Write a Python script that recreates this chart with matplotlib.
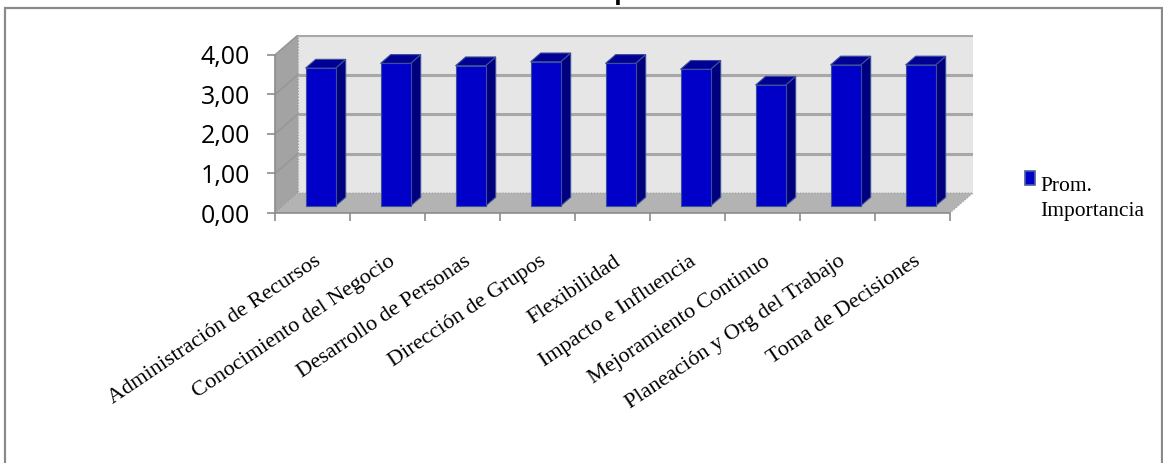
import matplotlib
matplotlib.use("Agg")
import matplotlib.pyplot as plt
from matplotlib.patches import Polygon, Rectangle
from matplotlib.transforms import ScaledTranslation

categorias = ['Administración de Recursos', 'Conocimiento del Negocio',
              'Desarrollo de Personas', 'Dirección de Grupos', 'Flexibilidad',
              'Impacto e Influencia', 'Mejoramiento Continuo',
              'Planeación y Org del Trabajo', 'Toma de Decisiones']
importancia = [3.49, 3.61, 3.55, 3.65, 3.61, 3.46, 3.06, 3.57, 3.57]
serie = 'Prom. Importancia'
y_ticks = [0, 1, 2, 3, 4]

# oblique "3D" depth offsets, in data units
DX, DY = 0.307, 0.506
F0, F1 = 0.35, 0.79      # depth span of each column
ANCHO = 0.40             # column width
YMAX = 4

fig = plt.figure(figsize=(11.63, 4.63), dpi=100)
fig.patch.set_facecolor('white')

# outer chart frame
fig.patches.append(Rectangle((5 / 1163, -0.1), 1157 / 1163, 1 - 8 / 463 + 0.1,
                             transform=fig.transFigure, fill=False,
                             edgecolor='#8a8a8a', linewidth=1.6))

# chart title sits above the top edge of the frame
fig.text(0.531, 1 + 1 / 463, serie, ha='center', va='baseline',
         fontsize=18, fontweight='bold', family='Open Sans')

ax = fig.add_axes([275 / 1163, (463 - 213) / 463, 698 / 1163, 178 / 463])
n = len(categorias)
ax.set_xlim(0, n + DX)
ax.set_ylim(0, YMAX + DY)
ax.patch.set_visible(False)

# walls and floor
ax.add_patch(Polygon([(DX, DY), (n + DX, DY), (n + DX, YMAX + DY), (DX, YMAX + DY)],
                     facecolor='#e6e6e6', edgecolor='#a0a0a0', linewidth=0.8,
                     linestyle=':', zorder=1))
ax.add_patch(Polygon([(0, 0), (DX, DY), (DX, YMAX + DY), (0, YMAX)],
                     facecolor='#a3a3a3', edgecolor='#a0a0a0', linewidth=0.8,
                     linestyle=':', zorder=1))
ax.add_patch(Polygon([(0, 0), (n, 0), (n + DX, DY), (DX, DY)],
                     facecolor='#b3b3b3', edgecolor='#a0a0a0', linewidth=0.8,
                     linestyle=':', zorder=1))

# gridlines on back and side walls
for t in y_ticks[1:]:
    ax.plot([DX, n + DX], [t + DY, t + DY], color='#a8a8a8', lw=2.2, zorder=2,
            solid_capstyle='butt')
    ax.plot([0, DX], [t, t + DY], color='#979797', lw=1.2, zorder=2)

# columns
for i, v in enumerate(importancia):
    x0 = i + 0.5 - ANCHO / 2 + F0 * DX
    y0 = F0 * DY
    ddx, ddy = (F1 - F0) * DX, (F1 - F0) * DY
    front = [(x0, y0), (x0 + ANCHO, y0), (x0 + ANCHO, y0 + v), (x0, y0 + v)]
    side = [(x0 + ANCHO, y0), (x0 + ANCHO + ddx, y0 + ddy),
            (x0 + ANCHO + ddx, y0 + ddy + v), (x0 + ANCHO, y0 + v)]
    top = [(x0, y0 + v), (x0 + ANCHO, y0 + v), (x0 + ANCHO + ddx, y0 + v + ddy),
           (x0 + ddx, y0 + v + ddy)]
    ax.add_patch(Polygon(side, facecolor='#00007e', edgecolor='#3a4f9a', lw=0.8, zorder=3))
    ax.add_patch(Polygon(top, facecolor='#000094', edgecolor='#3a4f9a', lw=0.8, zorder=3))
    ax.add_patch(Polygon(front, facecolor='#0000c8', edgecolor='#3a4f9a', lw=0.8, zorder=4))

# axes
for s in ['top', 'right']:
    ax.spines[s].set_visible(False)
ax.spines['left'].set_bounds(0, YMAX)
ax.spines['bottom'].set_bounds(0, n)
for s in ['left', 'bottom']:
    ax.spines[s].set_color('#8c8c8c')
    ax.spines[s].set_linewidth(1.2)
    ax.spines[s].set_zorder(5)
ax.set_yticks(y_ticks)
ax.set_yticklabels([f'{t:.2f}'.replace('.', ',') for t in y_ticks],
                   fontsize=18, family='Open Sans')
ax.set_xticks(range(n + 1))
ax.set_xticklabels([])
ax.tick_params(axis='both', color='#8c8c8c', length=6, width=1.2, direction='out')
ax.tick_params(axis='y', pad=12)

shift = ScaledTranslation(1 / 100, -39 / 100, fig.dpi_scale_trans)
for i, cat in enumerate(categorias):
    ax.text(i + 0.5, 0, cat, transform=ax.transData + shift, rotation=34,
            rotation_mode='anchor', ha='right', va='top', fontsize=16,
            family='Liberation Serif')

# legend
fig.patches.append(Rectangle((1025 / 1163, 1 - 185 / 463), 10 / 1163, 14 / 463,
                             transform=fig.transFigure, facecolor='#0000c8',
                             edgecolor='#4a5fa0', linewidth=1.2))
fig.text(1040 / 1163, 1 - 216 / 463, 'Prom.\nImportancia', ha='left', va='baseline',
         fontsize=15.5, family='Liberation Serif', linespacing=1.4)

fig.savefig('out.png', dpi=100)
